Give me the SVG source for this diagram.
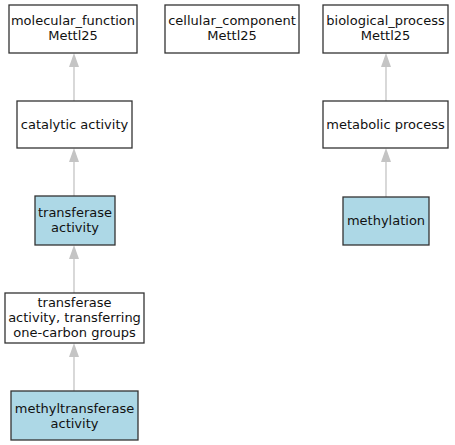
<svg xmlns="http://www.w3.org/2000/svg" width="455" height="445" viewBox="0 0 455 445">
<style>
.n rect{stroke:#333;stroke-width:1.3;fill:#fff}
.n.h rect{fill:#add8e6}
text{font-family:"DejaVu Sans",sans-serif;font-size:13px;fill:#111;text-anchor:middle}
.e line{stroke:#c4c4c4;stroke-width:1.3}
.e polygon{fill:#c4c4c4}
</style>
<rect width="455" height="445" fill="#fff"/>
<g class="e" id="edges">
<line x1="74" y1="101" x2="74" y2="66"/><polygon points="74,53 69,67 79,67"/>
<line x1="74" y1="196" x2="74" y2="161"/><polygon points="74,148 69,162 79,162"/>
<line x1="74" y1="293" x2="74" y2="258"/><polygon points="74,245 69,259 79,259"/>
<line x1="74" y1="391" x2="74" y2="356"/><polygon points="74,343 69,357 79,357"/>
<line x1="386" y1="101" x2="386" y2="66"/><polygon points="386,53 381,67 391,67"/>
<line x1="386" y1="197" x2="386" y2="161"/><polygon points="386,148 381,162 391,162"/>
</g>
<g class="n" id="molecular_function"><rect x="9" y="5" width="128" height="48"/><text x="73" y="25">molecular_function</text><text x="73" y="40">Mettl25</text></g>
<g class="n" id="cellular_component"><rect x="165" y="5" width="134" height="48"/><text x="232" y="25">cellular_component</text><text x="232" y="40">Mettl25</text></g>
<g class="n" id="biological_process"><rect x="323" y="5" width="125" height="48"/><text x="385.5" y="25">biological_process</text><text x="385.5" y="40">Mettl25</text></g>
<g class="n" id="catalytic_activity"><rect x="17" y="101" width="115" height="47"/><text x="74.5" y="129">catalytic activity</text></g>
<g class="n" id="metabolic_process"><rect x="323" y="101" width="125" height="47"/><text x="385.5" y="129">metabolic process</text></g>
<g class="n h" id="transferase_activity"><rect x="35" y="196" width="80" height="49"/><text x="75" y="217">transferase</text><text x="75" y="232">activity</text></g>
<g class="n h" id="methylation"><rect x="343" y="197" width="86" height="48"/><text x="386" y="225">methylation</text></g>
<g class="n" id="transferase_one_carbon"><rect x="5" y="293" width="139" height="50"/><text x="74.5" y="307">transferase</text><text x="74.5" y="322">activity, transferring</text><text x="74.5" y="337">one-carbon groups</text></g>
<g class="n h" id="methyltransferase_activity"><rect x="11" y="391" width="127" height="49"/><text x="74.5" y="413">methyltransferase</text><text x="74.5" y="428">activity</text></g>
</svg>
